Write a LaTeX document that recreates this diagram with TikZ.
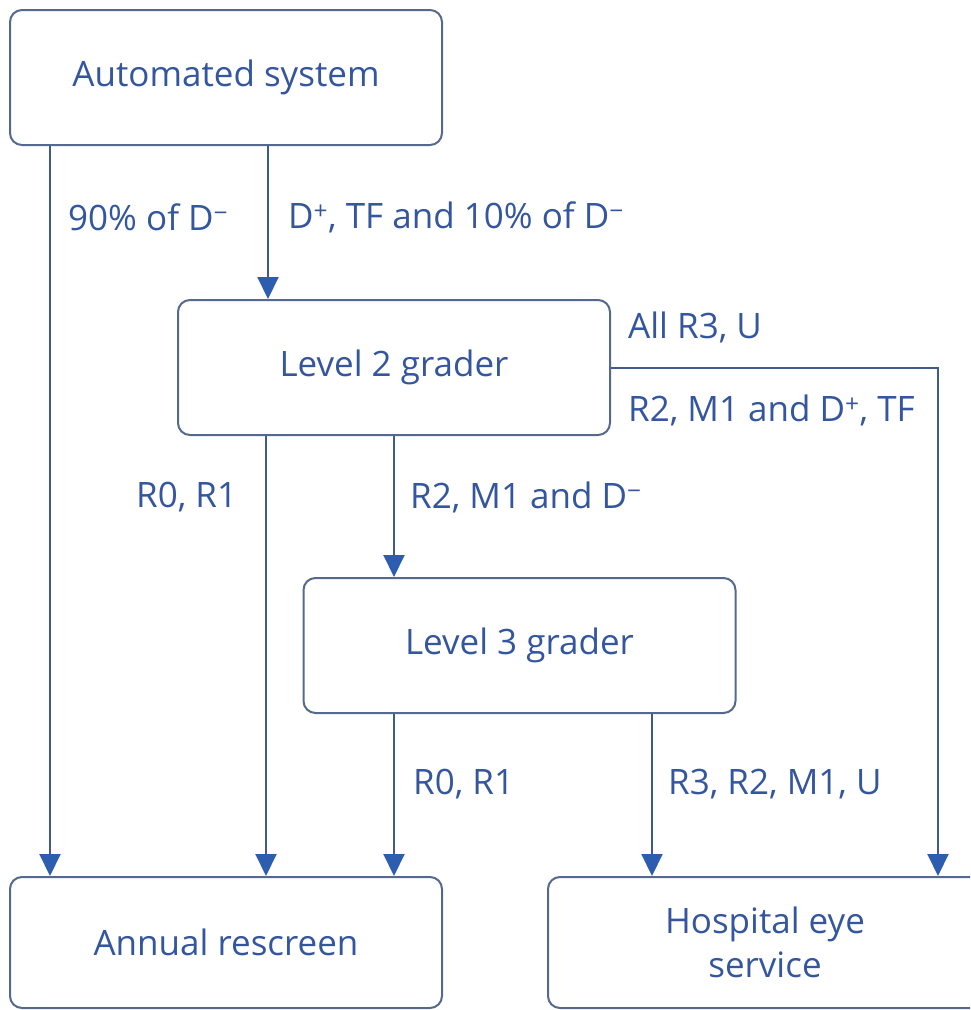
\documentclass[tikz,border=0pt]{standalone}
\usepackage{fontspec}
\setmainfont{Open Sans}
\usetikzlibrary{arrows.meta}
\definecolor{txtblue}{HTML}{34569E}
\definecolor{boxline}{HTML}{55698F}
\definecolor{flowline}{HTML}{3F5B8C}
\definecolor{tipblue}{HTML}{2C5DAF}
\newcommand{\dmin}{D\textsuperscript{−}}
\newcommand{\dplus}{D\textsuperscript{+}}
\begin{document}
\begin{tikzpicture}[x=1pt,y=-1pt,font=\fontsize{35}{44}\selectfont\color{txtblue},
  stage/.style={shape=rectangle,rounded corners=12pt,draw=boxline,line width=2pt,minimum width=432pt,minimum height=135pt,align=center,inner sep=0pt},
  flow/.style={draw=flowline,line width=2pt,-{Triangle[length=22pt,width=21pt,color=tipblue]}},
  lbl/.style={anchor=west,inner sep=0pt}]
\useasboundingbox (0,0) rectangle (970,1010);
\clip (0,0) rectangle (970,1010);

\node[stage] (auto) at (226,77.5) {Automated system};
\node[stage] (lvtwo) at (394,367.5) {Level 2 grader};
\node[stage] (lvthree) at (519.5,645.5) {Level 3 grader};
\node[stage,minimum height=131pt] (annual) at (226,942.5) {Annual rescreen};
\node[stage,minimum width=434pt,minimum height=131pt] (hes) at (765,942.5) {Hospital eye\\service};

\draw[flow] (auto.south -| 50,0) -- (annual.north -| 50,0);
\draw[flow] (auto.south -| 268,0) -- (lvtwo.north -| 268,0);
\draw[flow] (lvtwo.south -| 266,0) -- (annual.north -| 266,0);
\draw[flow] (lvtwo.south -| 394,0) -- (lvthree.north -| 394,0);
\draw[flow] (lvthree.south -| 394,0) -- (annual.north -| 394,0);
\draw[flow] (lvthree.south -| 652,0) -- (hes.north -| 652,0);
\draw[flow] (lvtwo.east) -| (hes.north -| 938,0);

\node[lbl] (l90) at (68,217) {90\% of \dmin};
\node[lbl] (ldtf) at (288,217) {\dplus, TF and 10\% of \dmin};
\node[lbl] (lall) at (628,327) {All R3, U};
\node[lbl] (lrmd) at (628,410) {R2, M1 and \dplus, TF};
\node[lbl] (lrr) at (136,497) {R0, R1};
\node[lbl] (lrmm) at (410,497) {R2, M1 and \dmin};
\node[lbl] (lrrb) at (413,784) {R0, R1};
\node[lbl] (lrru) at (668,784) {R3, R2, M1, U};
\end{tikzpicture}
\end{document}
